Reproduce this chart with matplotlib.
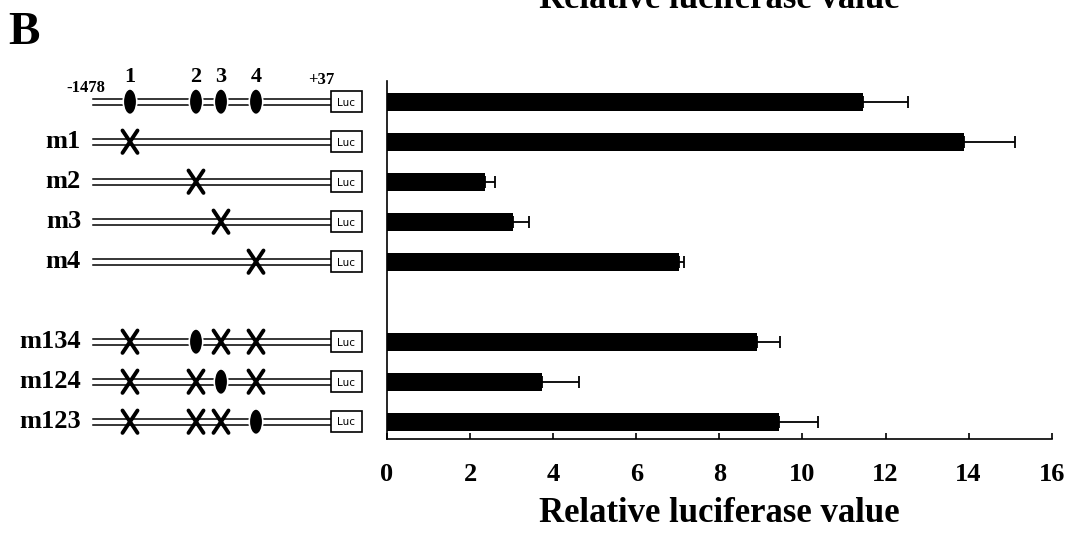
import matplotlib
matplotlib.use("Agg")
import matplotlib.pyplot as plt
from matplotlib.patches import Ellipse, Rectangle

# luciferase data
constructs = ["", "m1", "m2", "m3", "m4", "m134", "m124", "m123"]
rows = [0, 1, 2, 3, 4, 6, 7, 8]
values = [11.45, 13.89, 2.37, 3.03, 7.04, 8.91, 3.74, 9.44]
errors = [1.08, 1.22, 0.22, 0.38, 0.12, 0.55, 0.89, 0.94]
xticks = [0, 2, 4, 6, 8, 10, 12, 14, 16]

# promoter sites: 'o' intact, 'x' mutated, '' not drawn
site_names = ["1", "2", "3", "4"]
site_x = [130, 196, 221, 256]
site_state = [
    ["o", "o", "o", "o"],
    ["x", "", "", ""],
    ["", "x", "", ""],
    ["", "", "x", ""],
    ["", "", "", "x"],
    ["x", "o", "x", "x"],
    ["x", "x", "o", "x"],
    ["x", "x", "x", "o"],
]

serif = "Liberation Serif"
W, H = 1073, 534
fig = plt.figure(figsize=(W / 100, H / 100), dpi=100)

left, right = 387 / W, 1051.7 / W
bottom, top = 1 - 439.3 / H, 1 - 80.7 / H
ax = fig.add_axes([left, bottom, right - left, top - bottom])

ax.barh(rows, values, height=0.45, color="black",
        xerr=[[0] * len(errors), errors], capsize=4.5,
        error_kw=dict(elinewidth=1.3, capthick=1.3, ecolor="black"))
ax.set_xlim(0, 16)
ax.set_ylim(8.44, -0.525)
ax.set_xticks(xticks)
ax.set_yticks([])
for s in ["top", "right"]:
    ax.spines[s].set_visible(False)
for s in ["left", "bottom"]:
    ax.spines[s].set_linewidth(1.2)
ax.tick_params(axis="x", direction="in", length=4, width=1.2, pad=17)
for lab in ax.get_xticklabels():
    lab.set_fontfamily(serif)
    lab.set_fontweight("bold")
    lab.set_fontsize(19)

fig.text((left + right) / 2, 1 - 514 / H, "Relative luciferase value",
         ha="center", va="center", fontsize=25, fontweight="bold", family=serif)
# title at the top, cut off by the figure edge as in the source
fig.text((left + right) / 2, 1 - 8 / H, "Relative luciferase value",
         ha="center", va="baseline", fontsize=25, fontweight="bold", family=serif)
fig.text(8 / W, 1 - 44 / H, "B", ha="left", va="baseline",
         fontsize=34, fontweight="bold", family=serif)

# construct diagram, x in pixels, y shared with bars
ax2 = fig.add_axes([0, bottom, left, top - bottom])
ax2.set_xlim(0, 387)
ax2.set_ylim(8.44, -0.525)
ax2.axis("off")

line_start, box_x, box_w = 93, 331, 31
off = 0.075
for name, y, states in zip(constructs, rows, site_state):
    for dy in (-off, off):
        ax2.plot([line_start, box_x], [y + dy, y + dy], color="black", lw=1.1)
    ax2.add_patch(Rectangle((box_x, y - 0.26), box_w, 0.52, facecolor="white",
                            edgecolor="black", lw=1.2, zorder=3))
    ax2.text(box_x + box_w / 2, y + 0.02, "Luc", ha="center", va="center",
             fontsize=7.5, family="DejaVu Sans", zorder=4)
    for sx, st in zip(site_x, states):
        if st == "o":
            ax2.add_patch(Ellipse((sx, y), 13.5, 0.64, facecolor="black",
                                  edgecolor="white", lw=1.2, zorder=3))
        elif st == "x":
            ax2.plot([sx - 7.5, sx + 7.5], [y - 0.28, y + 0.28], color="black",
                     lw=2.8, zorder=3, solid_capstyle="round")
            ax2.plot([sx - 7.5, sx + 7.5], [y + 0.28, y - 0.28], color="black",
                     lw=2.8, zorder=3, solid_capstyle="round")
    if name:
        ax2.text(81, y, name, ha="right", va="center", fontsize=19,
                 fontweight="bold", family=serif)

for sx, nm in zip(site_x, site_names):
    ax2.text(sx, -0.62, nm, ha="center", va="center", fontsize=16,
             fontweight="bold", family=serif, clip_on=False)
ax2.text(85.5, -0.355, "-1478", ha="center", va="center", fontsize=12,
         fontweight="bold", family=serif, clip_on=False)
ax2.text(321, -0.555, "+37", ha="center", va="center", fontsize=12,
         fontweight="bold", family=serif, clip_on=False)

fig.savefig("out.png", dpi=100)
